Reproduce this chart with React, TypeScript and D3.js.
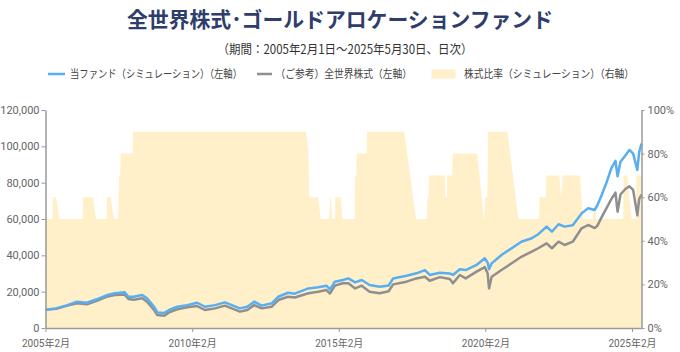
import React, { useRef, useEffect } from "react";
import * as d3 from "d3";

// daily NAV (start = 10,000)
const navDates = [
  "2005-02-01", "2005-06-15", "2005-11-01", "2006-03-01", "2006-07-01", "2006-11-01",
  "2007-03-01", "2007-06-15", "2007-10-15", "2007-12-01", "2008-02-05", "2008-05-20",
  "2008-07-20", "2008-10-15", "2008-11-25", "2009-02-20", "2009-04-20", "2009-08-01",
  "2009-12-01", "2010-04-05", "2010-07-10", "2010-11-15", "2011-03-15", "2011-06-10",
  "2011-09-20", "2011-12-20", "2012-03-15", "2012-06-15", "2012-10-20", "2013-01-10",
  "2013-05-10", "2013-08-01", "2014-01-20", "2014-05-20", "2014-09-01", "2014-10-15",
  "2014-12-15", "2015-03-25", "2015-06-01", "2015-08-25", "2015-11-15", "2016-02-20",
  "2016-06-25", "2016-10-15", "2016-12-10", "2017-05-25", "2017-09-25", "2018-01-10",
  "2018-03-10", "2018-07-15", "2018-11-15", "2018-12-25", "2019-03-20", "2019-06-01",
  "2019-10-15", "2020-01-25", "2020-03-01", "2020-03-18", "2020-04-20", "2020-08-20",
  "2020-12-25", "2021-04-25", "2021-09-01", "2021-11-20", "2022-03-05", "2022-05-10",
  "2022-08-01", "2022-10-15", "2023-01-25", "2023-05-15", "2023-08-05", "2023-10-25",
  "2023-11-25", "2024-01-20", "2024-03-20", "2024-05-20", "2024-07-10", "2024-08-05",
  "2024-09-10", "2024-11-10", "2024-12-31", "2025-02-15", "2025-04-08", "2025-05-01",
  "2025-05-30",
];

const fundValues = [
  10000, 10800, 12600, 14500, 13900, 15800,
  18000, 19100, 19700, 17200, 17200, 18200,
  16300, 11700, 8600, 8300, 9900, 11700,
  12600, 13900, 11700, 12600, 14100, 12600,
  10800, 11700, 14500, 12300, 13600, 17200,
  19400, 18900, 21800, 22400, 23300, 21300,
  25500, 26400, 27300, 25100, 26400, 23700,
  22700, 23400, 27300, 28800, 30100, 31900,
  29200, 30400, 30000, 29200, 32300, 31900,
  34700, 38400, 36000, 32400, 35600, 40200,
  43900, 47500, 49400, 51600, 55800, 53000,
  57100, 55800, 56500, 63100, 65900, 65000,
  67300, 73200, 80000, 88000, 92000, 83500,
  91500, 95000, 98000, 96000, 87000, 97000,
  101500,
];

const globalEquityValues = [
  10000, 10600, 12300, 13600, 13100, 15000,
  17200, 18200, 18400, 16000, 15600, 16400,
  14500, 9900, 7150, 6700, 8600, 10300,
  11400, 12100, 9900, 10800, 12300, 10800,
  9000, 9900, 12600, 10800, 11700, 15400,
  17200, 16800, 19100, 20000, 20900, 19000,
  23300, 24600, 24600, 21800, 23300, 20000,
  19100, 20200, 24000, 25500, 27300, 28200,
  26000, 28000, 27000, 24600, 29200, 27300,
  31000, 33500, 30000, 21800, 28200, 31900,
  35600, 39200, 42000, 43900, 46600, 43900,
  47500, 45700, 47500, 54900, 56700, 55000,
  56100, 61000, 66000, 71000, 74500, 64000,
  73500, 76500, 78000, 76000, 62000, 71000,
  73500,
];

// equity ratio (%) breakpoints
const ratioDates = [
  "2005-02-01", "2005-04-29", "2005-05-01", "2005-06-12", "2005-07-23", "2006-05-10",
  "2006-05-14", "2006-09-16", "2006-10-23", "2007-03-04", "2007-03-08", "2007-04-23",
  "2007-06-03", "2007-07-27", "2007-08-05", "2007-08-21", "2007-08-26", "2008-01-22",
  "2008-01-26", "2013-12-19", "2014-01-18", "2014-01-30", "2014-05-22", "2014-06-21",
  "2014-10-06", "2014-10-15", "2014-10-24", "2014-11-13", "2014-12-16", "2014-12-20",
  "2015-02-25", "2015-03-21", "2015-08-18", "2015-08-22", "2015-09-09", "2015-09-12",
  "2016-01-14", "2016-01-18", "2017-04-27", "2017-09-20", "2018-02-01", "2018-02-11",
  "2018-02-23", "2018-03-01", "2018-09-16", "2018-09-22", "2018-10-11", "2018-10-14",
  "2018-12-16", "2018-12-21", "2019-10-23", "2020-01-14", "2020-01-20", "2020-01-26",
  "2020-02-26", "2020-03-07", "2020-11-02", "2021-03-19", "2021-12-03", "2021-12-07",
  "2022-02-25", "2022-03-01", "2022-08-10", "2022-08-31", "2022-09-21", "2023-04-23",
  "2023-06-04", "2023-10-03", "2023-10-22", "2023-11-16", "2024-10-15", "2024-10-19",
  "2024-12-04", "2025-01-28", "2025-03-22", "2025-03-26", "2025-05-30",
];

const ratioValues = [
  50, 50, 60, 60, 50, 50,
  60, 60, 50, 50, 60, 60,
  50, 50, 70, 70, 80, 80,
  90, 90, 82, 60, 60, 50,
  50, 60, 60, 50, 50, 60,
  60, 50, 50, 70, 70, 80,
  80, 90, 90, 50, 50, 60,
  60, 70, 70, 60, 60, 70,
  70, 80, 80, 50, 50, 60,
  60, 90, 90, 50, 50, 60,
  60, 70, 70, 60, 70, 70,
  50, 50, 60, 50, 50, 70,
  70, 50, 50, 70, 70,
];

const leftTicks = [0, 20000, 40000, 60000, 80000, 100000, 120000];
const rightTicks = [0, 20, 40, 60, 80, 100];
const xTickDates = ["2005-02-01", "2010-02-01", "2015-02-01", "2020-02-01", "2025-02-01"];

const jpFont = "'Noto Sans CJK JP', 'Noto Sans', sans-serif";
const numFont = "Roboto, 'Noto Sans CJK JP', sans-serif";

export default function App() {
  const ref = useRef(null);

  useEffect(() => {
    const svg = d3.select(ref.current);
    svg.selectAll("*").remove();

    const width = 680;
    const margin = { top: 110, bottom: 328, left: 45.5, right: 641.5 };
    const parse = d3.timeParse("%Y-%m-%d");

    const x = d3.scaleTime()
      .domain([parse("2005-02-01"), parse("2025-05-30")])
      .range([margin.left, margin.right]);
    const yLeft = d3.scaleLinear().domain([0, 120000]).range([margin.bottom, margin.top]);
    const yRight = d3.scaleLinear().domain([0, 100]).range([margin.bottom, margin.top]);

    const nav = navDates.map((d, i) => ({
      date: parse(d),
      fund: fundValues[i],
      ref: globalEquityValues[i],
    }));
    const ratio = ratioDates.map((d, i) => ({ date: parse(d), v: ratioValues[i] }));

    // title
    svg.append("text")
      .attr("x", width / 2)
      .attr("y", 27)
      .attr("text-anchor", "middle")
      .attr("font-family", jpFont)
      .attr("font-weight", 700)
      .attr("font-size", 21)
      .attr("fill", "#2f3d6c")
      .attr("textLength", 426)
      .attr("lengthAdjust", "spacingAndGlyphs")
      .text("全世界株式･ゴールドアロケーションファンド");

    svg.append("text")
      .attr("x", 345)
      .attr("y", 54)
      .attr("text-anchor", "middle")
      .attr("font-family", jpFont)
      .attr("font-size", 12.5)
      .attr("fill", "#333")
      .attr("textLength", 255)
      .attr("lengthAdjust", "spacingAndGlyphs")
      .text("（期間：2005年2月1日～2025年5月30日、日次）");

    // legend
    const legendY = 74;
    const legend = svg.append("g");
    const legendItems = [
      { type: "line", color: "#58aef0", x0: 48, x1: 65, tx: 70, tw: 172, label: "当ファンド（シミュレーション）（左軸）" },
      { type: "line", color: "#8f8f8f", x0: 257, x1: 272, tx: 275.5, tw: 136.5, label: "（ご参考）全世界株式（左軸）" },
      { type: "rect", color: "#fff0c9", x0: 431.5, x1: 455.5, tx: 464, tw: 170, label: "株式比率（シミュレーション）（右軸）" },
    ];
    legendItems.forEach(item => {
      if (item.type === "line") {
        legend.append("line")
          .attr("x1", item.x0).attr("x2", item.x1)
          .attr("y1", legendY).attr("y2", legendY)
          .attr("stroke", item.color)
          .attr("stroke-width", 2.5);
      } else {
        legend.append("rect")
          .attr("x", item.x0).attr("y", legendY - 4.5)
          .attr("width", item.x1 - item.x0).attr("height", 9)
          .attr("fill", item.color);
      }
      legend.append("text")
        .attr("x", item.tx)
        .attr("y", legendY)
        .attr("dy", "0.36em")
        .attr("font-family", jpFont)
        .attr("font-size", 11)
        .attr("fill", "#444")
        .attr("textLength", item.tw)
        .attr("lengthAdjust", "spacingAndGlyphs")
        .text(item.label);
    });

    // equity ratio area (right axis)
    const area = d3.area()
      .x(d => x(d.date))
      .y0(yRight(0))
      .y1(d => yRight(d.v));
    svg.append("path")
      .datum(ratio)
      .attr("d", area)
      .attr("fill", "#fff0c9");

    const line = key => d3.line()
      .x(d => x(d.date))
      .y(d => yLeft(d[key]));

    svg.append("path")
      .datum(nav)
      .attr("d", line("ref"))
      .attr("fill", "none")
      .attr("stroke", "#8f8f8f")
      .attr("stroke-width", 2.5)
      .attr("stroke-linejoin", "round");

    svg.append("path")
      .datum(nav)
      .attr("d", line("fund"))
      .attr("fill", "none")
      .attr("stroke", "#58aef0")
      .attr("stroke-width", 2.5)
      .attr("stroke-linejoin", "round");

    const styleAxis = (g, size) => {
      g.select(".domain").attr("stroke", "#9a9a9a").attr("stroke-width", 1.5);
      g.selectAll(".tick line").attr("stroke", "#9a9a9a").attr("stroke-width", 1);
      g.selectAll(".tick text")
        .attr("fill", "#666")
        .attr("font-family", numFont)
        .attr("font-size", size);
    };

    // left axis
    const gl = svg.append("g")
      .attr("transform", `translate(${margin.left},0)`)
      .call(d3.axisLeft(yLeft).tickValues(leftTicks).tickFormat(d3.format(",")).tickSize(4).tickSizeOuter(0).tickPadding(2));
    styleAxis(gl, 11);

    // right axis
    const gr = svg.append("g")
      .attr("transform", `translate(${margin.right},0)`)
      .call(d3.axisRight(yRight).tickValues(rightTicks).tickFormat(d => `${d}%`).tickSize(3).tickSizeOuter(0).tickPadding(3));
    styleAxis(gr, 11);

    // bottom axis
    const gb = svg.append("g")
      .attr("transform", `translate(0,${margin.bottom})`)
      .call(d3.axisBottom(x).tickValues(xTickDates.map(parse)).tickFormat(d3.timeFormat("%Y年%-m月")).tickSize(4).tickSizeOuter(0).tickPadding(8));
    styleAxis(gb, 10);
  }, []);

  return (
    <svg
      ref={ref}
      width={680}
      height={352}
      style={{ position: "absolute", left: 0, top: 0, background: "#fff" }}
    />
  );
}
